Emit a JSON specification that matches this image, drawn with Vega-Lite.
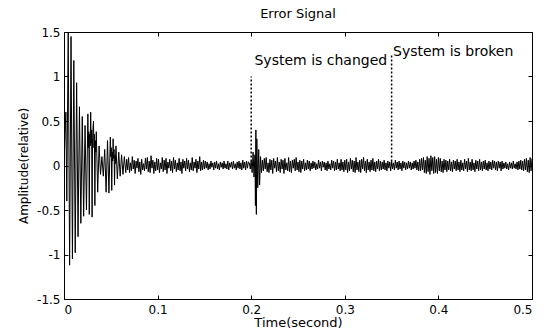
{
  "$schema": "https://vega.github.io/schema/vega-lite/v6.json",
  "width": 468,
  "height": 267,
  "autosize": {"type": "none"},
  "padding": {"left": 64, "top": 32, "right": 19, "bottom": 30},
  "background": "white",
  "title": {"text": "Error Signal", "offset": 5, "fontSize": 13, "fontWeight": "normal", "font": "DejaVu Sans", "color": "black"},
  "config": {
    "view": {"stroke": "black", "strokeWidth": 1},
    "axis": {"grid": false, "domain": false, "tickColor": "black", "tickSize": -4, "labelColor": "black", "labelFont": "DejaVu Sans", "labelFontSize": 12, "titleFont": "DejaVu Sans", "titleFontSize": 13, "titleFontWeight": "normal", "titleColor": "black"}
  },
  "datasets": {
    "sig": [
      {"t":0.0,"v":0.0},{"t":0.002,"v":0.6},{"t":0.003,"v":-0.4},{"t":0.0045,"v":1.49},{"t":0.006,"v":-1.12},{"t":0.0075,"v":1.45},{"t":0.009,"v":-1.05},{"t":0.0105,"v":1.18},{"t":0.012,"v":-0.98},{"t":0.0135,"v":0.93},{"t":0.015,"v":-0.8},{"t":0.0165,"v":0.66},{"t":0.018,"v":-0.65},{"t":0.0195,"v":0.55},{"t":0.021,"v":-0.57},{"t":0.0225,"v":0.45},{"t":0.024,"v":-0.5},
      {"t":0.0255,"v":0.58},{"t":0.026,"v":0.2},{"t":0.0265,"v":0.38},{"t":0.027,"v":-0.55},{"t":0.0275,"v":0.35},{"t":0.028,"v":0.22},{"t":0.0285,"v":0.6},{"t":0.029,"v":0.25},{"t":0.0295,"v":0.4},{"t":0.03,"v":-0.58},{"t":0.0305,"v":0.3},{"t":0.031,"v":0.42},{"t":0.0315,"v":0.5},{"t":0.032,"v":0.2},{"t":0.0325,"v":0.35},{"t":0.033,"v":-0.45},{"t":0.0335,"v":0.28},{"t":0.034,"v":0.15},{"t":0.0345,"v":0.38},
      {"t":0.036,"v":-0.3},{"t":0.0375,"v":0.22},{"t":0.039,"v":-0.1},{"t":0.0405,"v":0.1},{"t":0.042,"v":-0.12},{"t":0.0435,"v":0.18},{"t":0.045,"v":-0.3},{"t":0.0465,"v":0.28},{"t":0.048,"v":-0.31},{"t":0.0495,"v":0.32},{"t":0.05,"v":0.1},{"t":0.0505,"v":0.2},{"t":0.051,"v":-0.28},{"t":0.0515,"v":0.15},{"t":0.052,"v":0.05},{"t":0.0525,"v":0.3},{"t":0.053,"v":0.08},{"t":0.0535,"v":0.18},{"t":0.054,"v":-0.22},{"t":0.0545,"v":0.12},{"t":0.055,"v":0.02},{"t":0.0555,"v":0.22},{"t":0.057,"v":-0.15},{"t":0.0585,"v":0.15},{"t":0.06,"v":-0.12},{"t":0.0615,"v":0.12},{"t":0.063,"v":-0.1},{"t":0.0645,"v":0.1},{"t":0.066,"v":-0.08},
      {"t":0.067,"v":0.07},{"t":0.068,"v":-0.05},{"t":0.069,"v":0.09},{"t":0.07,"v":-0.08},{"t":0.071,"v":0.03},{"t":0.072,"v":-0.06},{"t":0.073,"v":0.1},{"t":0.074,"v":-0.04},{"t":0.075,"v":0.06},{"t":0.076,"v":-0.09},{"t":0.077,"v":0.05},{"t":0.078,"v":-0.03},{"t":0.079,"v":0.08},{"t":0.08,"v":-0.07},{"t":0.081,"v":0.04},{"t":0.082,"v":-0.1},{"t":0.083,"v":0.07},{"t":0.084,"v":-0.05},{"t":0.085,"v":0.02},{"t":0.086,"v":-0.06},{"t":0.087,"v":0.08},{"t":0.088,"v":-0.04},{"t":0.089,"v":0.09},{"t":0.09,"v":-0.07},{"t":0.091,"v":0.05},{"t":0.092,"v":-0.08},{"t":0.093,"v":0.11},{"t":0.094,"v":-0.03},{"t":0.095,"v":0.06},{"t":0.096,"v":-0.09},{"t":0.097,"v":0.04},{"t":0.098,"v":-0.06},{"t":0.099,"v":0.08},{"t":0.1,"v":-0.05},{"t":0.101,"v":0.07},{"t":0.102,"v":-0.08},{"t":0.103,"v":0.03},{"t":0.104,"v":-0.04},{"t":0.105,"v":0.09},{"t":0.106,"v":-0.07},{"t":0.107,"v":0.06},{"t":0.108,"v":-0.05},{"t":0.109,"v":0.08},{"t":0.11,"v":-0.09},{"t":0.111,"v":0.04},{"t":0.112,"v":-0.03},{"t":0.113,"v":0.07},{"t":0.114,"v":-0.06},{"t":0.115,"v":0.05},{"t":0.116,"v":-0.08},{"t":0.117,"v":0.09},{"t":0.118,"v":-0.04},{"t":0.119,"v":0.06},{"t":0.12,"v":-0.07},{"t":0.121,"v":0.03},{"t":0.122,"v":-0.05},{"t":0.123,"v":0.08},{"t":0.124,"v":-0.06},{"t":0.125,"v":0.04},{"t":0.126,"v":-0.09},{"t":0.127,"v":0.07},{"t":0.128,"v":-0.03},{"t":0.129,"v":0.05},{"t":0.13,"v":-0.06},{"t":0.131,"v":0.08},{"t":0.132,"v":-0.04},{"t":0.133,"v":0.06},{"t":0.134,"v":-0.07},{"t":0.135,"v":0.03},{"t":0.136,"v":-0.05},{"t":0.137,"v":0.09},{"t":0.138,"v":-0.06},{"t":0.139,"v":0.04},{"t":0.14,"v":-0.03},{"t":0.141,"v":0.07},{"t":0.142,"v":-0.08},{"t":0.143,"v":0.05},{"t":0.144,"v":-0.04},{"t":0.145,"v":0.1},{"t":0.146,"v":-0.06},{"t":0.147,"v":0.04},{"t":0.148,"v":-0.05},{"t":0.149,"v":0.06},{"t":0.15,"v":-0.04},
      {"t":0.151,"v":0.05},{"t":0.152,"v":-0.03},{"t":0.153,"v":0.04},{"t":0.154,"v":-0.05},{"t":0.155,"v":0.02},{"t":0.156,"v":-0.04},{"t":0.157,"v":0.05},{"t":0.158,"v":-0.02},{"t":0.159,"v":0.03},{"t":0.16,"v":-0.05},{"t":0.161,"v":0.04},{"t":0.162,"v":-0.03},{"t":0.163,"v":0.05},{"t":0.164,"v":-0.04},{"t":0.165,"v":0.02},{"t":0.166,"v":-0.05},{"t":0.167,"v":0.04},{"t":0.168,"v":-0.02},{"t":0.169,"v":0.03},{"t":0.17,"v":-0.04},{"t":0.171,"v":0.05},{"t":0.172,"v":-0.03},{"t":0.173,"v":0.02},{"t":0.174,"v":-0.04},{"t":0.175,"v":0.05},{"t":0.176,"v":-0.05},{"t":0.177,"v":0.03},{"t":0.178,"v":-0.02},{"t":0.179,"v":0.04},{"t":0.18,"v":-0.04},{"t":0.181,"v":0.05},{"t":0.182,"v":-0.03},{"t":0.183,"v":0.02},{"t":0.184,"v":-0.05},{"t":0.185,"v":0.04},{"t":0.186,"v":-0.03},{"t":0.187,"v":0.05},{"t":0.188,"v":-0.04},{"t":0.189,"v":0.03},{"t":0.19,"v":-0.05},{"t":0.191,"v":0.06},{"t":0.192,"v":-0.03},{"t":0.193,"v":0.04},{"t":0.194,"v":-0.05},{"t":0.195,"v":0.05},{"t":0.196,"v":-0.03},{"t":0.197,"v":0.04},
      {"t":0.198,"v":0.03},{"t":0.199,"v":-0.04},{"t":0.2,"v":0.05},{"t":0.201,"v":-0.08},{"t":0.202,"v":0.15},{"t":0.203,"v":-0.13},{"t":0.204,"v":0.12},{"t":0.2045,"v":-0.45},{"t":0.205,"v":0.4},{"t":0.2055,"v":-0.55},{"t":0.206,"v":0.3},{"t":0.207,"v":-0.25},{"t":0.208,"v":0.18},{"t":0.209,"v":-0.22},{"t":0.21,"v":0.1},{"t":0.211,"v":-0.08},{"t":0.212,"v":0.06},
      {"t":0.213,"v":-0.06},{"t":0.214,"v":0.08},{"t":0.215,"v":-0.04},{"t":0.216,"v":0.09},{"t":0.217,"v":-0.07},{"t":0.218,"v":0.03},{"t":0.219,"v":-0.08},{"t":0.22,"v":0.07},{"t":0.221,"v":-0.05},{"t":0.222,"v":0.06},{"t":0.223,"v":-0.09},{"t":0.224,"v":0.08},{"t":0.225,"v":-0.03},{"t":0.226,"v":0.05},{"t":0.227,"v":-0.07},{"t":0.228,"v":0.09},{"t":0.229,"v":-0.06},{"t":0.23,"v":0.04},{"t":0.231,"v":-0.08},{"t":0.232,"v":0.07},{"t":0.233,"v":-0.04},{"t":0.234,"v":0.06},{"t":0.235,"v":-0.09},{"t":0.236,"v":0.08},{"t":0.237,"v":-0.05},{"t":0.238,"v":0.03},{"t":0.239,"v":-0.06},{"t":0.24,"v":0.09},{"t":0.241,"v":-0.07},{"t":0.242,"v":0.05},{"t":0.243,"v":-0.08},{"t":0.244,"v":0.06},{"t":0.245,"v":-0.03},{"t":0.246,"v":0.07},{"t":0.247,"v":-0.06},{"t":0.248,"v":0.09},{"t":0.249,"v":-0.05},{"t":0.25,"v":0.04},{"t":0.251,"v":-0.07},{"t":0.252,"v":0.06},{"t":0.253,"v":-0.08},{"t":0.254,"v":0.05},{"t":0.255,"v":-0.04},{"t":0.256,"v":0.07},{"t":0.257,"v":-0.06},{"t":0.258,"v":0.03},{"t":0.259,"v":-0.05},{"t":0.26,"v":0.06},
      {"t":0.261,"v":-0.04},{"t":0.262,"v":0.05},{"t":0.263,"v":-0.06},{"t":0.264,"v":0.03},{"t":0.265,"v":-0.04},{"t":0.266,"v":0.05},{"t":0.267,"v":-0.03},{"t":0.268,"v":0.04},{"t":0.269,"v":-0.05},{"t":0.27,"v":0.02},{"t":0.271,"v":-0.04},{"t":0.272,"v":0.06},{"t":0.273,"v":-0.03},{"t":0.274,"v":0.04},{"t":0.275,"v":-0.06},{"t":0.276,"v":0.05},{"t":0.277,"v":-0.02},{"t":0.278,"v":0.04},{"t":0.279,"v":-0.05},{"t":0.28,"v":0.03},{"t":0.281,"v":-0.06},{"t":0.282,"v":0.05},{"t":0.283,"v":-0.04},{"t":0.284,"v":0.02},{"t":0.285,"v":-0.05},{"t":0.286,"v":0.06},{"t":0.287,"v":-0.03},{"t":0.288,"v":0.05},{"t":0.289,"v":-0.06},{"t":0.29,"v":0.04},{"t":0.291,"v":-0.05},{"t":0.292,"v":0.07},{"t":0.293,"v":-0.04},{"t":0.294,"v":0.03},{"t":0.295,"v":-0.06},{"t":0.296,"v":0.07},{"t":0.297,"v":-0.05},{"t":0.298,"v":0.04},{"t":0.299,"v":-0.07},{"t":0.3,"v":0.06},
      {"t":0.301,"v":-0.05},{"t":0.302,"v":0.07},{"t":0.303,"v":-0.08},{"t":0.304,"v":0.04},{"t":0.305,"v":-0.06},{"t":0.306,"v":0.08},{"t":0.307,"v":-0.04},{"t":0.308,"v":0.06},{"t":0.309,"v":-0.07},{"t":0.31,"v":0.05},{"t":0.311,"v":-0.08},{"t":0.312,"v":0.09},{"t":0.313,"v":-0.05},{"t":0.314,"v":0.04},{"t":0.315,"v":-0.07},{"t":0.316,"v":0.06},{"t":0.317,"v":-0.08},{"t":0.318,"v":0.07},{"t":0.319,"v":-0.04},{"t":0.32,"v":0.09},{"t":0.321,"v":-0.06},{"t":0.322,"v":0.05},{"t":0.323,"v":-0.08},{"t":0.324,"v":0.07},{"t":0.325,"v":-0.05},{"t":0.326,"v":0.04},{"t":0.327,"v":-0.07},{"t":0.328,"v":0.06},{"t":0.329,"v":-0.05},{"t":0.33,"v":0.08},{"t":0.331,"v":-0.06},{"t":0.332,"v":0.04},{"t":0.333,"v":-0.07},{"t":0.334,"v":0.05},{"t":0.335,"v":-0.04},{"t":0.336,"v":0.07},{"t":0.337,"v":-0.06},{"t":0.338,"v":0.05},{"t":0.339,"v":-0.05},{"t":0.34,"v":0.04},
      {"t":0.341,"v":-0.04},{"t":0.342,"v":0.06},{"t":0.343,"v":-0.05},{"t":0.344,"v":0.03},{"t":0.345,"v":-0.06},{"t":0.346,"v":0.05},{"t":0.347,"v":-0.03},{"t":0.348,"v":0.04},{"t":0.349,"v":-0.06},{"t":0.35,"v":0.05},{"t":0.351,"v":-0.04},{"t":0.352,"v":0.03},{"t":0.353,"v":-0.05},{"t":0.354,"v":0.06},{"t":0.355,"v":-0.03},{"t":0.356,"v":0.04},{"t":0.357,"v":-0.05},{"t":0.358,"v":0.05},{"t":0.359,"v":-0.04},{"t":0.36,"v":0.03},{"t":0.361,"v":-0.06},{"t":0.362,"v":0.05},{"t":0.363,"v":-0.03},{"t":0.364,"v":0.04},{"t":0.365,"v":-0.05},{"t":0.366,"v":0.03},{"t":0.367,"v":-0.04},{"t":0.368,"v":0.05},{"t":0.369,"v":-0.03},{"t":0.37,"v":0.04},{"t":0.371,"v":-0.05},{"t":0.372,"v":0.03},{"t":0.373,"v":-0.04},{"t":0.374,"v":0.05},{"t":0.375,"v":-0.03},{"t":0.376,"v":0.06},{"t":0.377,"v":-0.05},{"t":0.378,"v":0.04},{"t":0.379,"v":-0.06},{"t":0.38,"v":0.07},
      {"t":0.381,"v":-0.06},{"t":0.382,"v":0.08},{"t":0.383,"v":-0.05},{"t":0.384,"v":0.09},{"t":0.385,"v":-0.08},{"t":0.386,"v":0.06},{"t":0.387,"v":-0.09},{"t":0.388,"v":0.1},{"t":0.389,"v":-0.07},{"t":0.39,"v":0.08},{"t":0.391,"v":-0.1},{"t":0.392,"v":0.11},{"t":0.393,"v":-0.06},{"t":0.394,"v":0.09},{"t":0.395,"v":-0.09},{"t":0.396,"v":0.1},{"t":0.397,"v":-0.08},{"t":0.398,"v":0.07},{"t":0.399,"v":-0.09},{"t":0.4,"v":0.09},{"t":0.401,"v":-0.06},{"t":0.402,"v":0.08},{"t":0.403,"v":-0.07},{"t":0.404,"v":0.05},{"t":0.405,"v":-0.08},{"t":0.406,"v":0.07},{"t":0.407,"v":-0.05},{"t":0.408,"v":0.06},{"t":0.409,"v":-0.07},{"t":0.41,"v":0.05},
      {"t":0.411,"v":-0.05},{"t":0.412,"v":0.07},{"t":0.413,"v":-0.06},{"t":0.414,"v":0.04},{"t":0.415,"v":-0.07},{"t":0.416,"v":0.06},{"t":0.417,"v":-0.04},{"t":0.418,"v":0.05},{"t":0.419,"v":-0.06},{"t":0.42,"v":0.07},{"t":0.421,"v":-0.05},{"t":0.422,"v":0.04},{"t":0.423,"v":-0.07},{"t":0.424,"v":0.06},{"t":0.425,"v":-0.05},{"t":0.426,"v":0.03},{"t":0.427,"v":-0.06},{"t":0.428,"v":0.07},{"t":0.429,"v":-0.04},{"t":0.43,"v":0.05},{"t":0.431,"v":-0.07},{"t":0.432,"v":0.08},{"t":0.433,"v":-0.05},{"t":0.434,"v":0.04},{"t":0.435,"v":-0.06},{"t":0.436,"v":0.07},{"t":0.437,"v":-0.05},{"t":0.438,"v":0.03},{"t":0.439,"v":-0.07},{"t":0.44,"v":0.06},{"t":0.441,"v":-0.04},{"t":0.442,"v":0.05},{"t":0.443,"v":-0.06},{"t":0.444,"v":0.07},{"t":0.445,"v":-0.05},{"t":0.446,"v":0.04},{"t":0.447,"v":-0.06},{"t":0.448,"v":0.05},{"t":0.449,"v":-0.04},{"t":0.45,"v":0.06},{"t":0.451,"v":-0.05},{"t":0.452,"v":0.03},{"t":0.453,"v":-0.06},{"t":0.454,"v":0.05},{"t":0.455,"v":-0.04},{"t":0.456,"v":0.04},{"t":0.457,"v":-0.05},{"t":0.458,"v":0.06},{"t":0.459,"v":-0.03},{"t":0.46,"v":0.05},{"t":0.461,"v":-0.05},{"t":0.462,"v":0.04},{"t":0.463,"v":-0.06},{"t":0.464,"v":0.05},{"t":0.465,"v":-0.03},{"t":0.466,"v":0.04},{"t":0.467,"v":-0.06},{"t":0.468,"v":0.05},{"t":0.469,"v":-0.04},{"t":0.47,"v":0.03},
      {"t":0.471,"v":-0.03},{"t":0.472,"v":0.04},{"t":0.473,"v":-0.04},{"t":0.474,"v":0.02},{"t":0.475,"v":-0.05},{"t":0.476,"v":0.04},{"t":0.477,"v":-0.03},{"t":0.478,"v":0.03},{"t":0.479,"v":-0.04},{"t":0.48,"v":0.05},{"t":0.481,"v":-0.03},{"t":0.482,"v":0.02},{"t":0.483,"v":-0.04},{"t":0.484,"v":0.04},{"t":0.485,"v":-0.05},{"t":0.486,"v":0.05},{"t":0.487,"v":-0.04},{"t":0.488,"v":0.06},{"t":0.489,"v":-0.05},{"t":0.49,"v":0.05},
      {"t":0.491,"v":-0.06},{"t":0.492,"v":0.07},{"t":0.493,"v":-0.05},{"t":0.494,"v":0.08},{"t":0.495,"v":-0.07},{"t":0.496,"v":0.06},{"t":0.497,"v":-0.08},{"t":0.498,"v":0.09},{"t":0.499,"v":-0.06},{"t":0.5,"v":0.08}
    ],
    "marks": [
      {"t": 0.2, "y0": 0, "y1": 1.0},
      {"t": 0.35, "y0": 0, "y1": 1.25}
    ],
    "notes": [
      {"t": 0.2035, "v": 1.13, "label": "System is changed"},
      {"t": 0.3515, "v": 1.23, "label": "System is broken"}
    ]
  },
  "layer": [
    {
      "data": {"name": "sig"},
      "mark": {"type": "line", "color": "black", "strokeWidth": 1, "clip": true, "interpolate": "linear"},
      "encoding": {
        "x": {"field": "t", "type": "quantitative", "scale": {"domain": [0, 0.5], "nice": false, "zero": false},
              "axis": {"orient": "bottom", "values": [0, 0.1, 0.2, 0.3, 0.4, 0.5], "labelExpr": "toString(datum.value)", "title": "Time(second)", "labelPadding": 9, "titlePadding": 1}},
        "y": {"field": "v", "type": "quantitative", "scale": {"domain": [-1.5, 1.5], "nice": false, "zero": false},
              "axis": {"orient": "left", "values": [-1.5, -1, -0.5, 0, 0.5, 1, 1.5], "labelExpr": "toString(datum.value)", "title": "Amplitude(relative)", "titleFontSize": 12, "labelPadding": 8, "titlePadding": 6}}
      }
    },
    {
      "data": {"name": "marks"},
      "mark": {"type": "rule", "color": "black", "strokeWidth": 1.5, "strokeDash": [2, 2]},
      "encoding": {
        "x": {"field": "t", "type": "quantitative", "axis": {"orient": "top", "values": [0, 0.1, 0.2, 0.3, 0.4, 0.5], "labels": false, "title": null}},
        "y": {"field": "y0", "type": "quantitative", "axis": {"orient": "right", "values": [-1.5, -1, -0.5, 0, 0.5, 1, 1.5], "labels": false, "title": null}},
        "y2": {"field": "y1"}
      }
    },
    {
      "data": {"name": "notes"},
      "mark": {"type": "text", "align": "left", "baseline": "alphabetic", "font": "DejaVu Sans", "fontSize": 14, "color": "black"},
      "encoding": {
        "x": {"field": "t", "type": "quantitative", "axis": null},
        "y": {"field": "v", "type": "quantitative", "axis": null},
        "text": {"field": "label"}
      }
    }
  ],
  "resolve": {"axis": {"x": "independent", "y": "independent"}}
}
